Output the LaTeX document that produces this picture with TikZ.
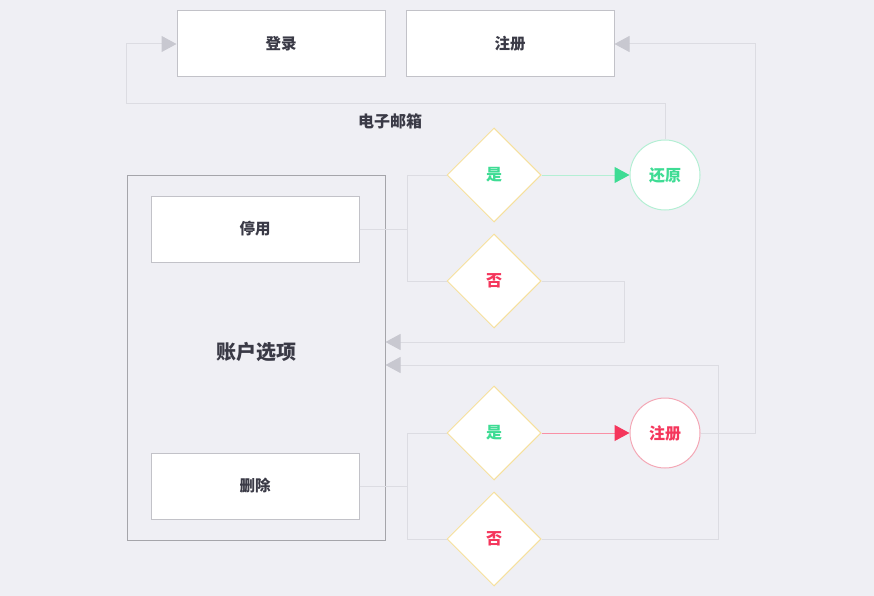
\documentclass[tikz,border=0pt]{standalone}
\usepackage{fontspec}
\newfontfamily\cjk{Noto Sans CJK SC}
\usetikzlibrary{arrows.meta,shapes.geometric,positioning}
\definecolor{bgc}{HTML}{EFEFF4}
\definecolor{txtc}{HTML}{3A3A46}
\definecolor{boxline}{HTML}{C2C2C8}
\definecolor{cline}{HTML}{DCDCE2}
\definecolor{tipc}{HTML}{C8C8D0}
\definecolor{dialine}{HTML}{F6E09C}
\definecolor{okc}{HTML}{3EDC94}
\definecolor{oklight}{HTML}{B4EFD4}
\definecolor{noc}{HTML}{F5365C}
\definecolor{nolight}{HTML}{F4A8B6}
\begin{document}
\begin{tikzpicture}[x=1pt, y=-1pt, font=\cjk\bfseries,
    boxnode/.style={draw=boxline, fill=white, line width=1pt, minimum width=208pt, minimum height=66pt, text=txtc, font=\cjk\bfseries\fontsize{15.5}{17}\selectfont},
    decide/.style={draw=dialine, fill=white, line width=1pt, diamond, aspect=1, minimum width=94pt, minimum height=94pt, inner sep=0pt, font=\cjk\bfseries\fontsize{16}{18}\selectfont},
    endnode/.style={circle, fill=white, line width=1pt, minimum size=70pt, inner sep=0pt, font=\cjk\bfseries\fontsize{16}{18}\selectfont},
    conn/.style={draw=cline, line width=1pt},
    back/.style={conn, -{Triangle[length=15pt,width=16pt,fill=tipc,color=tipc]}}]
    % fondo
    \fill[bgc] (0,0) rectangle (874,596);
    \useasboundingbox (0,0) rectangle (874,596);

    % blocchi in alto
    \node[boxnode] (login) at (281,44) {登录};
    \node[boxnode] (reg) at (510,44) {注册};

    % contenitore opzioni account
    \node[draw=boxline!85!black, line width=1pt, minimum width=258pt, minimum height=365pt] (acct) at (256,357.5) {};
    \node[text=txtc, font=\cjk\bfseries\fontsize{20}{22}\selectfont] (acctlabel) at (256,352) {账户选项};
    \node[boxnode] (disable) at (255,229) {停用};
    \node[boxnode] (delete) at (255,486) {删除};

    % decisioni
    \node[decide, text=okc] (yes1) at (494,175) {是};
    \node[decide, text=noc] (no1) at (494,281) {否};
    \node[decide, text=okc] (yes2) at (494,433) {是};
    \node[decide, text=noc] (no2) at (494,539) {否};

    % esiti
    \node[endnode, draw=oklight, text=okc] (restore) at (665,175) {还原};
    \node[endnode, draw=nolight, text=noc] (regc) at (665,433) {注册};

    % ramo di "停用"
    \draw[conn] (disable.east) -- ++(48,0) |- (yes1.west);
    \draw[conn] (disable.east) -- ++(48,0) |- (no1.west);
    \draw[oklight, line width=1pt, -{Triangle[length=15pt,width=16pt,fill=okc,color=okc]}] (yes1.east) -- (restore.west);
    \draw[back] (no1.east) -- ++(83,0) |- ([yshift=15.5pt]acct.east);

    % ramo di "删除"
    \draw[conn] (delete.east) -- ++(48,0) |- (yes2.west);
    \draw[conn] (delete.east) -- ++(48,0) |- (no2.west);
    \draw[noc!55!white, line width=1pt, -{Triangle[length=15pt,width=16pt,fill=noc,color=noc]}] (yes2.east) -- (regc.west);
    \draw[back] (no2.east) -- ++(177,0) |- ([yshift=-7.5pt]acct.east);

    % ritorno verso login e registrazione
    \draw[back] (restore.north) -- ++(0,-36) -| ([xshift=-50pt]login.west) -- (login.west);
    \node[text=txtc, font=\cjk\bfseries\fontsize{16}{18}\selectfont] (mail) at (390,121) {电子邮箱};
    \draw[back] (regc.east) -- ++(55,0) |- (reg.east);
\end{tikzpicture}
\end{document}
